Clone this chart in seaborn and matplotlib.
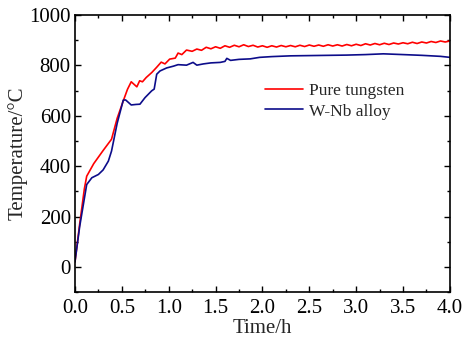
import matplotlib
matplotlib.use("Agg")
import matplotlib.pyplot as plt
import numpy as np
import pandas as pd
import seaborn as sns
from matplotlib.ticker import MultipleLocator, FormatStrFormatter

# Pure tungsten (time in h, temperature in degC)
w_time = [0, 0.05, 0.1, 0.125, 0.2, 0.3, 0.39, 0.45, 0.515, 0.56, 0.6, 0.66,
          0.69, 0.72, 0.76, 0.82, 0.87, 0.92, 0.96, 1.01, 1.07, 1.1, 1.14,
          1.19, 1.25, 1.30, 1.35, 1.40, 1.45, 1.50, 1.55, 1.60, 1.65, 1.70,
          1.75, 1.80, 1.85, 1.90, 1.95, 2.00, 2.05, 2.10, 2.15, 2.20, 2.25,
          2.30, 2.35, 2.40, 2.45, 2.50, 2.55, 2.60, 2.65, 2.70, 2.75, 2.80,
          2.85, 2.90, 2.95, 3.00, 3.05, 3.10, 3.15, 3.20, 3.25, 3.30, 3.35,
          3.40, 3.45, 3.50, 3.55, 3.60, 3.65, 3.70, 3.75, 3.80, 3.85, 3.90,
          3.95, 4.00]
w_temp = [20, 170, 310, 360, 410, 462, 507, 590, 659, 705, 735, 715,
          739, 735, 752, 772, 792, 813, 806, 825, 829, 849, 843,
          861, 856, 865, 860, 872, 866, 874, 868, 878, 872, 880,
          874, 882, 875, 880, 873, 878, 872, 878, 873, 879, 874,
          879, 874, 880, 875, 881, 876, 881, 876, 882, 877, 882,
          877, 883, 878, 884, 879, 886, 881, 887, 882, 888, 883,
          889, 885, 890, 886, 892, 887, 893, 889, 895, 891, 897,
          893, 897]

# W-Nb alloy
nb_time = [0, 0.05, 0.125, 0.18, 0.25, 0.3, 0.356, 0.39, 0.45, 0.515, 0.54,
           0.6, 0.65, 0.693, 0.747, 0.818, 0.845, 0.872, 0.907, 0.978, 1.05,
           1.1, 1.19, 1.26, 1.3, 1.37, 1.45, 1.55, 1.6, 1.62, 1.66, 1.75,
           1.87, 1.97, 2.1, 2.3, 2.5, 2.7, 2.9, 3.1, 3.29, 3.5, 3.7, 3.9, 4.0]
nb_temp = [20, 160, 327, 354, 367, 385, 420, 460, 570, 662, 663,
           643, 645, 646, 672, 699, 706, 765, 778, 790, 797,
           803, 801, 812, 801, 806, 810, 812, 816, 828, 820, 824,
           826, 832, 835, 838, 839, 840, 841, 843, 846, 843, 840, 836, 832]

df = pd.concat([
    pd.DataFrame({"time": w_time, "temp": w_temp, "sample": "Pure tungsten"}),
    pd.DataFrame({"time": nb_time, "temp": nb_temp, "sample": "W-Nb alloy"}),
])

sns.set_style("ticks")
plt.rcParams["font.family"] = ["Liberation Serif", "DejaVu Serif"]

fig = plt.figure(figsize=(4.64, 3.42), dpi=100)
ax = fig.add_axes([0.1616, 0.146, 0.808, 0.81])

sns.lineplot(data=df, x="time", y="temp", hue="sample", ax=ax,
             palette={"Pure tungsten": "#ff0000", "W-Nb alloy": "#0c0c8a"},
             linewidth=1.2, sort=False)

ax.set_xlim(0, 4.0)
ax.set_ylim(-100, 1000)
ax.xaxis.set_major_locator(MultipleLocator(0.5))
ax.xaxis.set_minor_locator(MultipleLocator(0.25))
ax.yaxis.set_major_locator(MultipleLocator(200))
ax.yaxis.set_minor_locator(MultipleLocator(100))
ax.xaxis.set_major_formatter(FormatStrFormatter("%.1f"))
ax.tick_params(which="both", direction="in", top=True, right=True,
               labelsize=15, width=1.0, colors="black", pad=3)
ax.tick_params(axis="x", which="major", pad=5)
ax.tick_params(which="major", length=4)
ax.tick_params(which="minor", length=2)
for sp in ax.spines.values():
    sp.set_linewidth(1.2)
    sp.set_color("black")

ax.set_xlabel("Time/h", fontsize=15, labelpad=1)
ax.set_ylabel("Temperature/\u00b0C", fontsize=15, labelpad=1)

ax.legend(loc="upper left", bbox_to_anchor=(0.507, 0.755), frameon=False,
          fontsize=12.5, handlelength=2.2, handletextpad=0.35,
          labelspacing=0.25, borderpad=0, borderaxespad=0, title=None)

fig.savefig("out.png", dpi=100)
